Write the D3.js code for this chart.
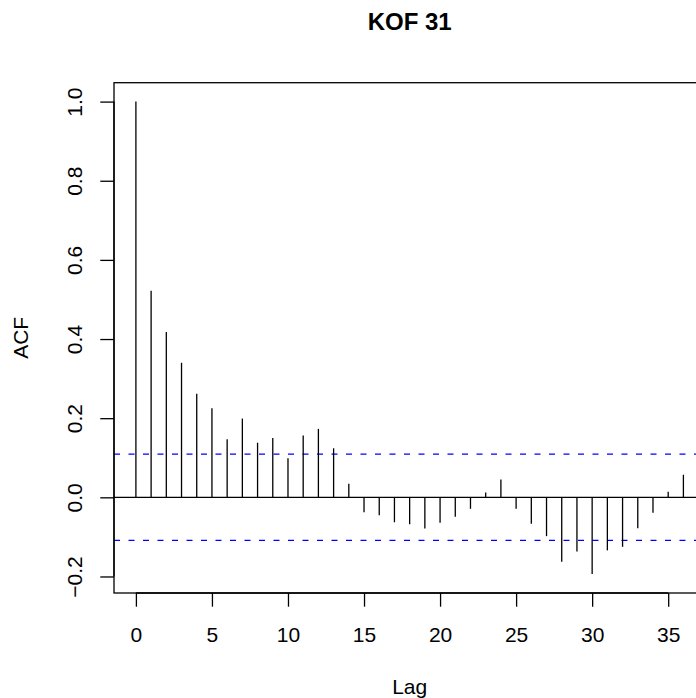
<!DOCTYPE html>
<html>
<head>
<meta charset="utf-8">
<script src="https://cdn.jsdelivr.net/npm/d3@7"></script>
<style>
  html, body { margin: 0; padding: 0; background: #fff; }
  text { font-family: "Liberation Sans", Arial, Helvetica, sans-serif; }
</style>
</head>
<body>
<svg id="chart" width="696" height="698"></svg>
<script>
// lag 0..36
const lags = d3.range(0, 37);
const acfValues = [1.0, 0.522, 0.418, 0.340, 0.262, 0.225, 0.147, 0.199, 0.138, 0.150,
  0.099, 0.156, 0.173, 0.124, 0.034, -0.038, -0.045, -0.063, -0.068, -0.079,
  -0.064, -0.049, -0.029, 0.012, 0.045, -0.029, -0.067, -0.098, -0.163, -0.137,
  -0.194, -0.134, -0.125, -0.078, -0.039, 0.014, 0.057];
const clim = 0.109;
const xTicks = [0, 5, 10, 15, 20, 25, 30, 35];
const yTicks = [-0.2, 0.0, 0.2, 0.4, 0.6, 0.8, 1.0];
const title = "KOF 31";

const svg = d3.select("#chart");

// plot box (R style, 4% padding on both axes)
const box = { left: 114, right: 705.3, top: 82.7, bottom: 593 };

const xMax = d3.max(lags);
const x = d3.scaleLinear()
  .domain([-0.04 * xMax, xMax * 1.04])
  .range([box.left, box.right]);

const yLo = Math.min(d3.min(acfValues), -clim), yHi = Math.max(d3.max(acfValues), clim);
const yPad = 0.04 * (yHi - yLo);
const y = d3.scaleLinear()
  .domain([yLo - yPad, yHi + yPad])
  .range([box.bottom, box.top]);

const fontSize = 21;
const tickLen = 13.7;

// zero line
svg.append("line")
  .attr("x1", box.left).attr("x2", box.right)
  .attr("y1", y(0)).attr("y2", y(0))
  .attr("stroke", "#000").attr("stroke-width", 1.3);

// confidence lines
[clim, -clim].forEach(c => {
  svg.append("line")
    .attr("x1", box.left).attr("x2", box.right)
    .attr("y1", y(c)).attr("y2", y(c))
    .attr("stroke", "#0000ff").attr("stroke-width", 1.3)
    .attr("stroke-dasharray", "6,8.5");
});

// the acf spikes
svg.append("g").selectAll("line")
  .data(lags)
  .join("line")
    .attr("x1", d => x(d)).attr("x2", d => x(d))
    .attr("y1", y(0))
    .attr("y2", d => y(acfValues[d]))
    .attr("stroke", "#000").attr("stroke-width", 1.3);

// box
svg.append("rect")
  .attr("x", box.left).attr("y", box.top)
  .attr("width", box.right - box.left).attr("height", box.bottom - box.top)
  .attr("fill", "none").attr("stroke", "#000").attr("stroke-width", 1.3);

// x axis
const xAxis = d3.axisBottom(x).tickValues(xTicks).tickSize(tickLen).tickSizeOuter(0).tickPadding(0).tickFormat(d3.format("d"));
const gx = svg.append("g").attr("transform", `translate(0,${box.bottom})`).call(xAxis);
gx.select(".domain")
  .attr("d", `M${x(xTicks[0])},0H${x(xTicks[xTicks.length - 1])}`)
  .attr("stroke-width", 1.3);
gx.selectAll(".tick line").attr("stroke-width", 1.3);
gx.selectAll(".tick text")
  .attr("font-size", fontSize)
  .attr("font-family", "Liberation Sans, Arial, sans-serif")
  .attr("fill", "#000")
  .attr("dy", null)
  .attr("y", 641.7 - box.bottom);

// y axis
const yAxis = d3.axisLeft(y).tickValues(yTicks).tickSize(tickLen).tickSizeOuter(0).tickFormat(d3.format(".1f"));
const gy = svg.append("g").attr("transform", `translate(${box.left},0)`).call(yAxis);
gy.select(".domain")
  .attr("d", `M0,${y(yTicks[0])}V${y(yTicks[yTicks.length - 1])}`)
  .attr("stroke-width", 1.3);
gy.selectAll(".tick line").attr("stroke-width", 1.3);
gy.selectAll(".tick text")
  .attr("font-size", fontSize)
  .attr("font-family", "Liberation Sans, Arial, sans-serif")
  .attr("fill", "#000")
  .attr("x", null).attr("dy", null)
  .attr("text-anchor", "middle")
  .attr("transform", `translate(${81.7 - box.left},0) rotate(-90)`)
  .text(d => d3.format(".1f")(d).replace("-", "\u2212"));

const midX = (box.left + box.right) / 2;
const midY = (box.top + box.bottom) / 2;

// labels
svg.append("text")
  .attr("x", midX).attr("y", 694.3)
  .attr("text-anchor", "middle")
  .attr("font-size", fontSize)
  .text("Lag");

svg.append("text")
  .attr("transform", `translate(28.3,${midY}) rotate(-90)`)
  .attr("text-anchor", "middle")
  .attr("font-size", fontSize)
  .text("ACF");

svg.append("text")
  .attr("x", midX).attr("y", 30)
  .attr("text-anchor", "middle")
  .attr("font-size", 24)
  .attr("font-weight", "bold")
  .text(title);
</script>
</body>
</html>
